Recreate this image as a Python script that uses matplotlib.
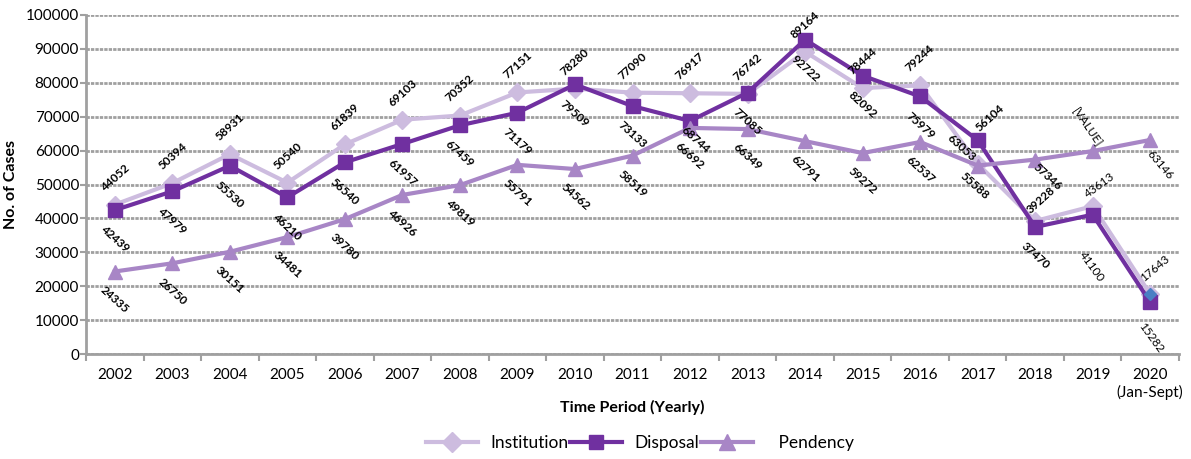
import matplotlib
matplotlib.use("Agg")
import matplotlib.pyplot as plt
from matplotlib.lines import Line2D

plt.rcParams['font.family'] = ['Lato', 'DejaVu Sans']

years = ["2002", "2003", "2004", "2005", "2006", "2007", "2008", "2009", "2010",
         "2011", "2012", "2013", "2014", "2015", "2016", "2017", "2018", "2019",
         "2020\n(Jan-Sept)"]

institution = [44052, 50394, 58931, 50540, 61839, 69103, 70352, 77151, 78280,
               77090, 76917, 76742, 89164, 78444, 79244, 56104, 39228, 43613, 17643]
disposal = [42439, 47979, 55530, 46210, 56540, 61957, 67459, 71179, 79509,
            73133, 68744, 77085, 92722, 82092, 75979, 63053, 37470, 41100, 15282]
pendency = [24335, 26750, 30151, 34481, 39780, 46926, 49819, 55791, 54562,
            58519, 66692, 66349, 62791, 59272, 62537, 55588, 57346, 59859, 63146]

c_inst = "#CDBCDF"
c_disp = "#7030A0"
c_pend = "#A886C6"
c_last = "#4A7FC4"

fig = plt.figure(figsize=(11.91, 4.59), dpi=100)
ax = fig.add_axes([86 / 1191, 105 / 459, 1093 / 1191, 339 / 459])

x = list(range(len(years)))

ax.plot(x, institution, color=c_inst, lw=3, marker="D", ms=9, zorder=3)
ax.plot(x[-1], institution[-1], color=c_last, marker="D", ms=6.5, lw=0, zorder=6)
ax.plot(x, disposal, color=c_disp, lw=3, marker="s", ms=9.5, zorder=4)
ax.plot(x, pendency, color=c_pend, lw=3, marker="^", ms=10.5, zorder=5)

ax.set_xlim(-0.5, len(years) - 0.5)
ax.set_ylim(0, 100000)
ax.set_yticks(range(0, 100001, 10000))
ax.set_xticks(x)
ax.set_xticklabels(years, fontsize=11, linespacing=1.25)
ax.tick_params(axis="y", labelsize=11, length=4, color="#A0A0A0", width=1.5, pad=1)
ax.tick_params(axis="x", length=0, pad=10)
ax.set_xticks([i - 0.5 for i in range(len(years) + 1)], minor=True)
ax.tick_params(axis="x", which="minor", length=5, color="#A0A0A0", width=1.5)

ax.grid(axis="y", color="#A0A0A0", lw=2, linestyle=(0, (1.2, 0.4)))
ax.set_axisbelow(True)
for side in ["top", "right"]:
    ax.spines[side].set_visible(False)
for side in ["left", "bottom"]:
    ax.spines[side].set_color("#A0A0A0")
    ax.spines[side].set_linewidth(2)

ax.set_xlabel("Time Period (Yearly)", fontsize=11.5, fontweight="bold")
ax.xaxis.set_label_coords(0.5, -0.136)
ax.set_ylabel("No. of Cases", fontsize=11.5, fontweight="bold")
ax.yaxis.set_label_coords(-0.062, 0.5)

# default label placement: institution above, disposal and pendency below
defaults = {"inst": (0, 27, 42), "disp": (0, -29, -42), "pend": (0, -28, -42)}
# a few labels sit elsewhere (dx, dy in pixels, rotation, bold)
special = {
    ("disp", 10): (5, -19, -42, True),
    ("inst", 15): (12, 46, 42, True),
    ("disp", 15): (-16, -8, -42, True),
    ("pend", 15): (-3, -20, -42, True),
    ("inst", 16): (6, 21, 42, True),
    ("pend", 16): (12, -17, -42, True),
    ("inst", 17): (7, 21, 36, False),
    ("disp", 17): (-1, -52, -54, False),
    ("pend", 17): (-6, 24, -56, False),
    ("inst", 18): (5, 26, 40, False),
    ("disp", 18): (1, -36, -54, False),
    ("pend", 18): (10, -25, -50, False),
}

series = {"inst": institution, "disp": disposal, "pend": pendency}
for key, vals in series.items():
    for i, v in enumerate(vals):
        dx, dy, rot = defaults[key]
        bold = True
        if (key, i) in special:
            dx, dy, rot, bold = special[(key, i)]
        text = str(v)
        if key == "pend" and i == 17:
            text = "[VALUE]"
        ax.annotate(text, (i, v), xytext=(dx, dy), textcoords="offset pixels",
                    ha="center", va="center", rotation=rot, fontsize=8.5,
                    fontweight="bold" if bold else "normal", color="black",
                    zorder=7)

handles = [
    Line2D([], [], color=c_inst, lw=3, marker="D", ms=10),
    Line2D([], [], color=c_disp, lw=3, marker="s", ms=10),
    Line2D([], [], color=c_pend, lw=3, marker="^", ms=11),
]
fig.legend(handles, ["Institution", "Disposal", "   Pendency"], loc="center",
           bbox_to_anchor=(640 / 1191, 1 - 443 / 459), ncol=3, frameon=False,
           fontsize=12.5, handlelength=3.0, columnspacing=0.1, handletextpad=0.7)

fig.savefig("out.png", dpi=100)
